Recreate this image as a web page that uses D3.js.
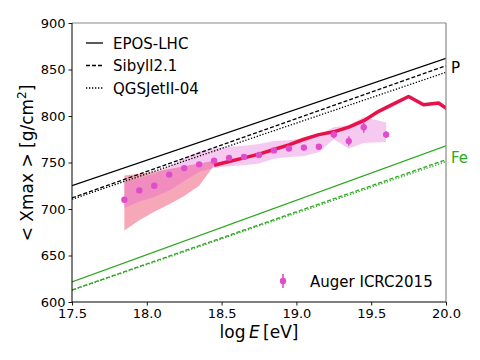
<!DOCTYPE html>
<html><head><meta charset="utf-8">
<script src="https://cdn.jsdelivr.net/npm/d3@7"></script>
<style>body{margin:0;background:#fff}svg{display:block;font-family:"DejaVu Sans",sans-serif}</style>
</head><body><svg id="c" width="480" height="360"></svg>
<script>
// Model predictions (endpoints of straight lines at logE 17.5 and 20.0)
const modelX = [17.5, 20.0];
const eposP = [725, 862];
const sibyllP = [712, 854];
const qgsjetP = [710.5, 847];
const eposFe = [621.5, 768];
const sibyllFe = [613, 753];
const qgsjetFe = [612.5, 751];

// Auger ICRC2015 data
const augerX = [17.85,17.95,18.05,18.15,18.25,18.35,18.45,18.55,18.65,18.75,18.85,18.95,19.05,19.15,19.25,19.35,19.45,19.6];
const augerY = [710,720,725,737,744,748,752,755,756,758,763,765,766,767,780,773,788,780];
const augerErr = [3,2,2,2,2,2,2,2,2,2,2,2,3,3,4,5,6,3.5];
const augerSysUp = [729,733,738,746,754,762,765,767,768,770,773,774,776,780,788,790,799,793];
const augerSysLo = [701,708,713,720,730,740,744,746,747,749,754,756,757,761,775,765,771,772];

// Pink band (low energy)
const pinkX = [17.85,17.95,18.05,18.15,18.25,18.35,18.45];
const pinkUp = [736,738,740,743,746,749,752];
const pinkLo = [677,688,697,705,714,725,747];

// Red thick line
const redX = [18.45,18.55,18.65,18.75,18.85,18.95,19.05,19.15,19.25,19.35,19.45,19.55,19.65,19.75,19.85,19.95,20.05];
const redY = [747,751,755,759,764,769,775,780,783,788,795,805,813,821,812,814,803];

const xTicks = [17.5,18.0,18.5,19.0,19.5,20.0];
const yTicks = [600,650,700,750,800,850,900];

const svg = d3.select("#c");
const L=72,R=446,T=23,B=302;
const x = d3.scaleLinear().domain([17.5,20.0]).range([L,R]);
const y = d3.scaleLinear().domain([600,900]).range([B,T]);
const green = "#2ea820", pinkC="#f7a8b8", mag="#e04ccc", red="#e8114a";

svg.append("defs").append("clipPath").attr("id","clip")
  .append("rect").attr("x",L).attr("y",T).attr("width",R-L).attr("height",B-T);
const g = svg.append("g").attr("clip-path","url(#clip)");

// pink band
g.append("path").datum(pinkX.map((v,i)=>[v,pinkLo[i],pinkUp[i]]))
  .attr("d", d3.area().x(d=>x(d[0])).y0(d=>y(d[1])).y1(d=>y(d[2])))
  .attr("fill",pinkC);
// Auger syst band
g.append("path").datum(augerX.map((v,i)=>[v,augerSysLo[i],augerSysUp[i]]))
  .attr("d", d3.area().x(d=>x(d[0])).y0(d=>y(d[1])).y1(d=>y(d[2])))
  .attr("fill",mag).attr("fill-opacity",0.3);

const line = d3.line().x(d=>x(d[0])).y(d=>y(d[1]));
function model(arr,color,dash){
  g.append("path").datum(modelX.map((v,i)=>[v,arr[i]])).attr("d",line)
   .attr("fill","none").attr("stroke",color).attr("stroke-width",1.3)
   .attr("stroke-dasharray",dash);
}
model(eposP,"#000",null);
model(sibyllP,"#000","4,2");
model(qgsjetP,"#000","1.3,1.7");
model(eposFe,green,null);
model(sibyllFe,green,"4,2");
model(qgsjetFe,green,"1.3,1.7");

// red line
g.append("path").datum(redX.map((v,i)=>[v,redY[i]])).attr("d",line)
  .attr("fill","none").attr("stroke",red).attr("stroke-width",3.5).attr("stroke-linejoin","round");

// Auger points
const pts = g.append("g");
augerX.forEach((v,i)=>{
  pts.append("line").attr("x1",x(v)).attr("x2",x(v))
    .attr("y1",y(augerY[i]-augerErr[i])).attr("y2",y(augerY[i]+augerErr[i]))
    .attr("stroke",mag).attr("stroke-width",1.6);
  pts.append("circle").attr("cx",x(v)).attr("cy",y(augerY[i])).attr("r",3.2).attr("fill",mag);
});

// axes
const ax = svg.append("g").attr("transform",`translate(0,${B})`)
  .call(d3.axisBottom(x).tickValues(xTicks).tickFormat(d3.format(".1f")).tickSize(3.5).tickPadding(3));
const ay = svg.append("g").attr("transform",`translate(${L},0)`)
  .call(d3.axisLeft(y).tickValues(yTicks).tickFormat(d3.format("d")).tickSize(3.5).tickPadding(3));
[ax,ay].forEach(a=>{
  a.select(".domain").remove();
  a.selectAll("text").attr("font-size",13).attr("fill","#000").attr("font-family","DejaVu Sans");
  a.selectAll("line").attr("stroke","#000").attr("stroke-width",0.9);
});
// spines
svg.append("line").attr("x1",L).attr("x2",R).attr("y1",T).attr("y2",T).attr("stroke","#888").attr("stroke-width",1.2);
svg.append("line").attr("x1",R).attr("x2",R).attr("y1",T).attr("y2",B).attr("stroke","#888").attr("stroke-width",1.2);
svg.append("line").attr("x1",L).attr("x2",L).attr("y1",T).attr("y2",B).attr("stroke","#000").attr("stroke-width",1);
svg.append("line").attr("x1",L).attr("x2",R).attr("y1",B).attr("y2",B).attr("stroke","#000").attr("stroke-width",1);

// axis labels
const xl = svg.append("text").attr("x",259).attr("y",338).attr("text-anchor","middle").attr("font-size",17);
xl.append("tspan").text("log\u2009");
xl.append("tspan").attr("font-style","italic").text("E");
xl.append("tspan").text("\u2009[eV]");
const yl = svg.append("text").attr("transform","translate(33,163) rotate(-90)").attr("text-anchor","middle").attr("font-size",17);
yl.append("tspan").text("< Xmax > [g/cm");
yl.append("tspan").attr("font-size",12).attr("dy",-7).text("2");
yl.append("tspan").attr("dy",7).text("]");

// P / Fe labels
svg.append("text").attr("x",451).attr("y",73).attr("font-size",15).text("P");
svg.append("text").attr("x",451).attr("y",163).attr("font-size",15).attr("fill",green).text("Fe");

// legend
const leg = [["EPOS-LHC",null],["Sibyll2.1","4,2"],["QGSJetII-04","1.3,1.7"]];
leg.forEach((d,i)=>{
  const yy = 43 + i*22.5;
  svg.append("line").attr("x1",86).attr("x2",103).attr("y1",yy).attr("y2",yy)
    .attr("stroke","#000").attr("stroke-width",1.3).attr("stroke-dasharray",d[1]);
  svg.append("text").attr("x",113).attr("y",yy+5.5).attr("font-size",15).text(d[0]);
});
svg.append("line").attr("x1",283).attr("x2",283).attr("y1",274).attr("y2",288).attr("stroke",mag).attr("stroke-width",1.6);
svg.append("circle").attr("cx",283).attr("cy",281).attr("r",3.2).attr("fill",mag);
svg.append("text").attr("x",310).attr("y",286.5).attr("font-size",15).text("Auger ICRC2015");
</script></body></html>
